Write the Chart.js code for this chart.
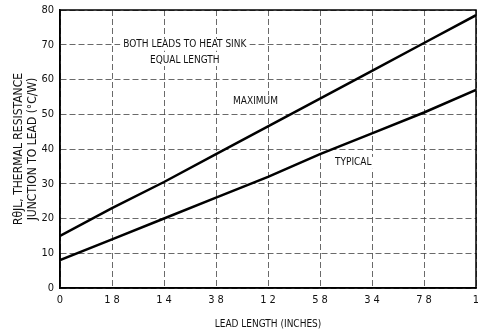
<!DOCTYPE html>
<html>
<head>
<meta charset="utf-8">
<script src="https://cdn.jsdelivr.net/npm/chart.js@4/dist/chart.umd.min.js"></script>
<style>
   html, body { margin: 0; padding: 0; background: #fff; }
   #chart1 { display: block; }
</style>
</head>
<body>
<canvas id="chart1" width="478" height="334"></canvas>
<script>
const leadLength = [0, 0.125, 0.25, 0.375, 0.5, 0.625, 0.75, 0.875, 1];
const maximum = [15, 23, 30.5, 38.5, 46.5, 54.5, 62.5, 70.5, 78.5];
const typical = [8, 14, 20, 26, 32, 38.5, 44.5, 50.5, 57];
const xTickLabels = ["0", "1 8", "1 4", "3 8", "1 2", "5 8", "3 4", "7 8", "1"];
const notes = [
   { text: "BOTH LEADS TO HEAT SINK", x: 0.30, y: 70 },
   { text: "EQUAL LENGTH", x: 0.30, y: 65.6 },
   { text: "MAXIMUM", x: 0.47, y: 53.8 },
   { text: "TYPICAL", x: 0.705, y: 36 },
];

const font = "'DejaVu Sans Condensed', 'Liberation Sans Narrow', sans-serif";

// text labels and the frame drawn on top of the plot
const notesPlugin = {
   id: "notes",
   afterDatasetsDraw(chart) {
      const ctx = chart.ctx;
      const xs = chart.scales.x;
      const ys = chart.scales.y;
      const area = chart.chartArea;
      ctx.save();
      ctx.strokeStyle = "#000";
      ctx.lineWidth = 1.5;
      ctx.strokeRect(area.left, area.top, area.right - area.left, area.bottom - area.top);
      ctx.font = `10px ${font}`;
      ctx.textAlign = "center";
      ctx.textBaseline = "middle";
      for (const n of notes) {
         const px = xs.getPixelForValue(n.x);
         const py = ys.getPixelForValue(n.y);
         const w = ctx.measureText(n.text).width;
         ctx.fillStyle = "#fff";
         ctx.fillRect(px - w / 2 - 3, py - 6, w + 6, 12);
         ctx.fillStyle = "#111";
         ctx.fillText(n.text, px, py);
      }
      ctx.restore();
   }
};

function makeDataset(label, values) {
   return {
      label: label,
      data: leadLength.map((x, i) => ({ x: x, y: values[i] })),
      borderColor: "#000",
      borderWidth: 2.5,
      pointRadius: 0,
      fill: false,
      tension: 0,
   };
}

const canva = document.querySelector("#chart1");
const chart = new Chart(canva, {
   type: "line",
   data: {
      datasets: [
         makeDataset("Maximum", maximum),
         makeDataset("Typical", typical),
      ]
   },
   options: {
      responsive: false,
      animation: false,
      layout: {
         padding: { top: 10, right: 2, left: 6, bottom: 0 }
      },
      plugins: {
         legend: { display: false },
         tooltip: { enabled: false },
      },
      scales: {
         x: {
            type: "linear",
            min: 0,
            max: 1,
            afterFit: (s) => { s.height = 46; s.paddingLeft = 0; s.paddingRight = 0; },
            afterBuildTicks: (s) => { s.ticks = leadLength.map(v => ({ value: v })); },
            ticks: {
               color: "#111",
               font: { family: font, size: 11 },
               padding: 6,
               maxRotation: 0,
               callback: (v, i) => xTickLabels[i],
            },
            grid: {
               color: "#444",
               lineWidth: 0.8,
               drawTicks: false,
            },
            border: { display: true, color: "#000", width: 1.5, dash: [6, 3] },
            title: {
               display: true,
               text: "LEAD LENGTH (INCHES)",
               color: "#111",
               font: { family: font, size: 10 },
               padding: { top: 6 },
            },
         },
         y: {
            min: 0,
            max: 80,
            afterFit: (s) => { s.width = 54; s.paddingTop = 0; s.paddingBottom = 0; },
            ticks: {
               stepSize: 10,
               color: "#111",
               font: { family: font, size: 11 },
               padding: 6,
            },
            grid: {
               color: "#444",
               lineWidth: 0.8,
               drawTicks: false,
            },
            border: { display: true, color: "#000", width: 1.5, dash: [6, 3] },
            title: {
               display: true,
               text: ["R\u03B8JL, THERMAL RESISTANCE", "JUNCTION TO LEAD (\u00B0C/W)"],
               color: "#111",
               font: { family: font, size: 12, lineHeight: 1.15 },
               padding: { top: 6, bottom: 0 },
            },
         }
      }
   },
   plugins: [notesPlugin]
});
</script>
</body>
</html>
